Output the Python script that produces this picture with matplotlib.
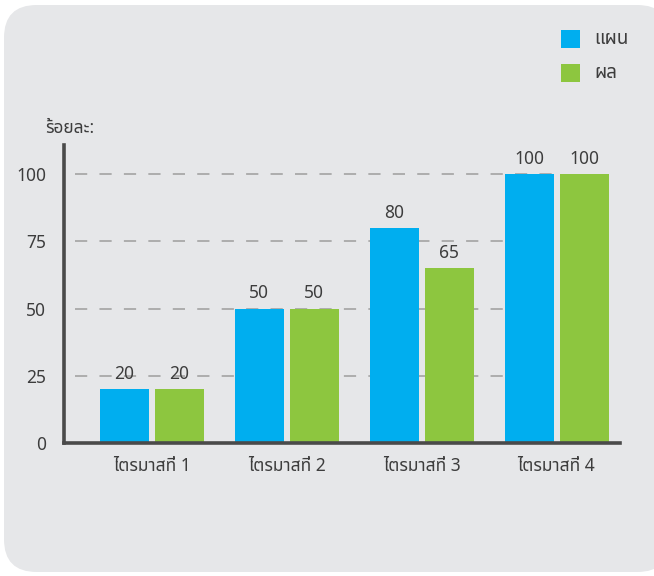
import numpy as np
import matplotlib
matplotlib.use("Agg")
import matplotlib.pyplot as plt
from matplotlib import font_manager
from matplotlib.patches import FancyBboxPatch, Rectangle

# ---- data ----
categories = ["ไตรมาสที่ 1", "ไตรมาสที่ 2", "ไตรมาสที่ 3", "ไตรมาสที่ 4"]
plan = [20, 50, 80, 100]
actual = [20, 50, 65, 100]
series_names = ["แผน", "ผล"]
y_ticks = [0, 25, 50, 75, 100]
y_title = "ร้อยละ:"

BLUE = "#00aeef"
GREEN = "#8dc63f"
PANEL = "#e6e7e9"
TEXT = "#3d3d3d"
AXIS = "#4a4a4a"
GRID = "#9d9d9d"


def thai_families():
    """Families that actually contain Thai glyphs."""
    found = []
    try:
        from fontTools.ttLib import TTFont
    except Exception:
        return found
    for fe in font_manager.fontManager.ttflist:
        if fe.name in found:
            continue
        try:
            tt = TTFont(fe.fname, fontNumber=0, lazy=True)
            cmap = tt.getBestCmap() or {}
            if 0x0E44 in cmap and 0x0E1C in cmap:
                found.append(fe.name)
        except Exception:
            pass
    return found


thai = thai_families()
preferred = ["Noto Sans Thai", "Noto Sans Thai Looped", "Loma", "Garuda", "Sarabun",
             "Kinnari", "Norasi", "Waree", "Umpush", "Laksaman"]
ordered = [f for f in preferred if f in thai] + [f for f in thai if f not in preferred]
FAMILY = ordered[:1] + ["DejaVu Sans"]
plt.rcParams["font.family"] = FAMILY

W, H = 654, 576
fig = plt.figure(figsize=(W / 100, H / 100), dpi=100)
fig.patch.set_facecolor("white")

# rounded panel behind everything
panel = FancyBboxPatch((4 / W, 4 / H), (670 - 4) / W, (571 - 4) / H,
                       boxstyle="round,pad=0,rounding_size=0.05",
                       transform=fig.transFigure, facecolor=PANEL,
                       edgecolor="none", mutation_aspect=W / H, zorder=-10)
fig.patches.append(panel)

# axes box: x 64..620 px, y 145..443 px
ax = fig.add_axes([64 / W, (H - 443) / H, (620 - 64) / W, (443 - 145) / H])
ax.set_facecolor("none")
ax.set_zorder(1)

x = np.arange(len(categories))
width = 0.363
offset = 0.204
ax.bar(x - offset, plan, width, color=BLUE, zorder=3)
ax.bar(x + offset, actual, width, color=GREEN, zorder=3)

for xi, v in zip(x - offset, plan):
    ax.text(xi, v + 2.3, str(v), ha="center", va="bottom", fontsize=12.5, color=TEXT, zorder=4)
for xi, v in zip(x + offset, actual):
    ax.text(xi, v + 2.3, str(v), ha="center", va="bottom", fontsize=12.5, color=TEXT, zorder=4)

ax.set_xlim(-0.652, 3.47)
ax.set_ylim(0, 110.8)

# dashed guide lines
for t in y_ticks[1:]:
    ax.plot([-0.57, 2.98], [t, t], color=GRID, lw=1.1, dashes=(8, 8), zorder=1)

ax.set_yticks(y_ticks)
ax.set_yticklabels([str(t) for t in y_ticks])
ax.set_xticks(x)
ax.set_xticklabels(categories)
ax.tick_params(axis="both", length=0, colors=TEXT, labelsize=12.5)
ax.tick_params(axis="y", pad=13)
ax.tick_params(axis="x", pad=10)

for s in ["top", "right"]:
    ax.spines[s].set_visible(False)
for s in ["left", "bottom"]:
    ax.spines[s].set_color(AXIS)
    ax.spines[s].set_linewidth(2.6)
    ax.spines[s].set_zorder(5)

fig.text(45 / W, 1 - 128 / H, y_title, ha="left", va="center", fontsize=12.5, color=TEXT)

# legend squares and labels
for i, (name, col) in enumerate(zip(series_names, [BLUE, GREEN])):
    cy = 39 + i * 34
    fig.patches.append(Rectangle((561 / W, 1 - (cy + 9) / H), 19 / W, 18 / H,
                                 transform=fig.transFigure, facecolor=col,
                                 edgecolor="none", zorder=2))
    fig.text(594 / W, 1 - cy / H, name, ha="left", va="center", fontsize=13.5, color=TEXT)

fig.savefig("out.png", dpi=100, facecolor="white")
